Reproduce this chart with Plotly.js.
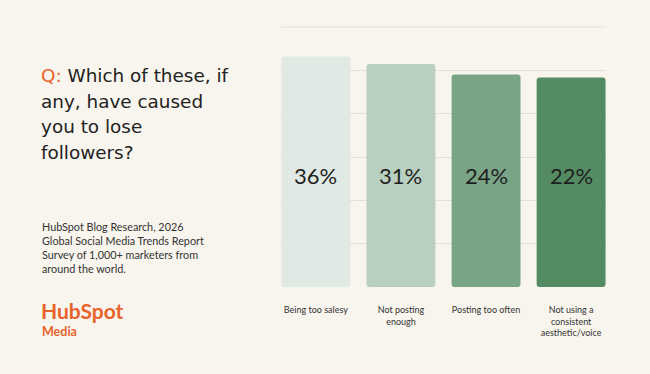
<!DOCTYPE html>
<html>
<head>
<meta charset="utf-8">
<script src="https://cdn.plot.ly/plotly-3.0.1.min.js"></script>
<style>html,body{margin:0;padding:0;background:#f8f5ee;}</style>
</head>
<body>
<div id="chart" style="width:650px;height:374px;"></div>
<script>
// ---- data ----
const categories = ["Being too salesy", "Not posting enough", "Posting too often", "Not using a consistent aesthetic/voice"];
const tickLabels = ["Being too salesy", "Not posting<br>enough", "Posting too often", "Not using a<br>consistent<br>aesthetic/voice"];
const values = [36, 31, 24, 22];
const barColors = ["#e1e9e4", "#b9cfc0", "#79a486", "#538c62"];
const questionLines = ["Which of these, if", "any, have caused", "you to lose", "followers?"];
const sourceLines = ["HubSpot Blog Research, 2026", "Global Social Media Trends Report", "Survey of 1,000+ marketers from", "around the world."];

// ---- layout geometry ----
const W = 650, H = 374, L = 281, R = 44, T = 27, B = 87;
const px = x => (x - L) / (W - L - R);
const py = y => (H - B - y) / (H - T - B);
const yLo = -117.5, yHi = 55.6;
const FONT = "Lato";
const TITLE_FONT = "DejaVu Sans";
const ORANGE = "#e8632b";

const trace = {
  type: "bar",
  x: categories,
  y: values.map(v => v - yLo),
  base: yLo,
  marker: { color: barColors, cornerradius: 3 },
  hoverinfo: "skip",
  showlegend: false
};

const annotations = [];
values.forEach((v, i) => {
  annotations.push({
    x: categories[i], xref: "x", y: py(175), yref: "paper",
    text: v + "%", showarrow: false,
    font: { family: FONT, size: 22, color: "#1f1f1f" },
    xanchor: "center", yanchor: "middle"
  });
});
questionLines.forEach((line, i) => {
  annotations.push({
    x: px(39), xref: "paper", y: py(75.5 + i * 25.5), yref: "paper",
    xanchor: "left", yanchor: "middle", align: "left", showarrow: false,
    text: (i === 0 ? "<span style='color:" + ORANGE + "'>Q:</span> " : "") + line,
    font: { family: TITLE_FONT, size: 18.4, color: "#222222" }
  });
});
annotations.push({
  x: px(40), xref: "paper", y: py(218), yref: "paper",
  xanchor: "left", yanchor: "top", align: "left", showarrow: false,
  text: sourceLines.join("<br>"),
  font: { family: FONT, size: 10.8, color: "#333333" }
});
annotations.push({
  x: px(39), xref: "paper", y: py(296), yref: "paper",
  xanchor: "left", yanchor: "top", align: "left", showarrow: false,
  text: "<b>HubSpot</b>",
  font: { family: FONT, size: 21, color: ORANGE }
});
annotations.push({
  x: px(40), xref: "paper", y: py(322), yref: "paper",
  xanchor: "left", yanchor: "top", align: "left", showarrow: false,
  text: "<b>Media</b>",
  font: { family: FONT, size: 12.5, color: ORANGE }
});

const layout = {
  width: W, height: H,
  margin: { l: L, r: R, t: T, b: B, pad: 0 },
  paper_bgcolor: "#f8f5ee",
  plot_bgcolor: "#f8f5ee",
  bargap: 0.19,
  xaxis: {
    type: "category",
    range: [-0.41, 3.41],
    tickvals: categories,
    ticktext: tickLabels,
    ticks: "",
    showgrid: false,
    zeroline: false,
    showline: false,
    ticklabelstandoff: 16,
    tickfont: { family: FONT, size: 9, color: "#333333" }
  },
  yaxis: {
    range: [yLo, yHi],
    tick0: yLo,
    dtick: (yHi - yLo) / 6,
    showticklabels: false,
    ticks: "",
    showgrid: true,
    gridcolor: "#e4e0d6",
    gridwidth: 1,
    zeroline: false,
    showline: false
  },
  shapes: [{
    type: "line", xref: "paper", yref: "paper", x0: 0, x1: 1, y0: 1, y1: 1,
    line: { color: "#e4e0d6", width: 1 }, layer: "below"
  }],
  annotations: annotations
};

Plotly.newPlot("chart", [trace], layout, { displayModeBar: false, staticPlot: true });
</script>
</body>
</html>
